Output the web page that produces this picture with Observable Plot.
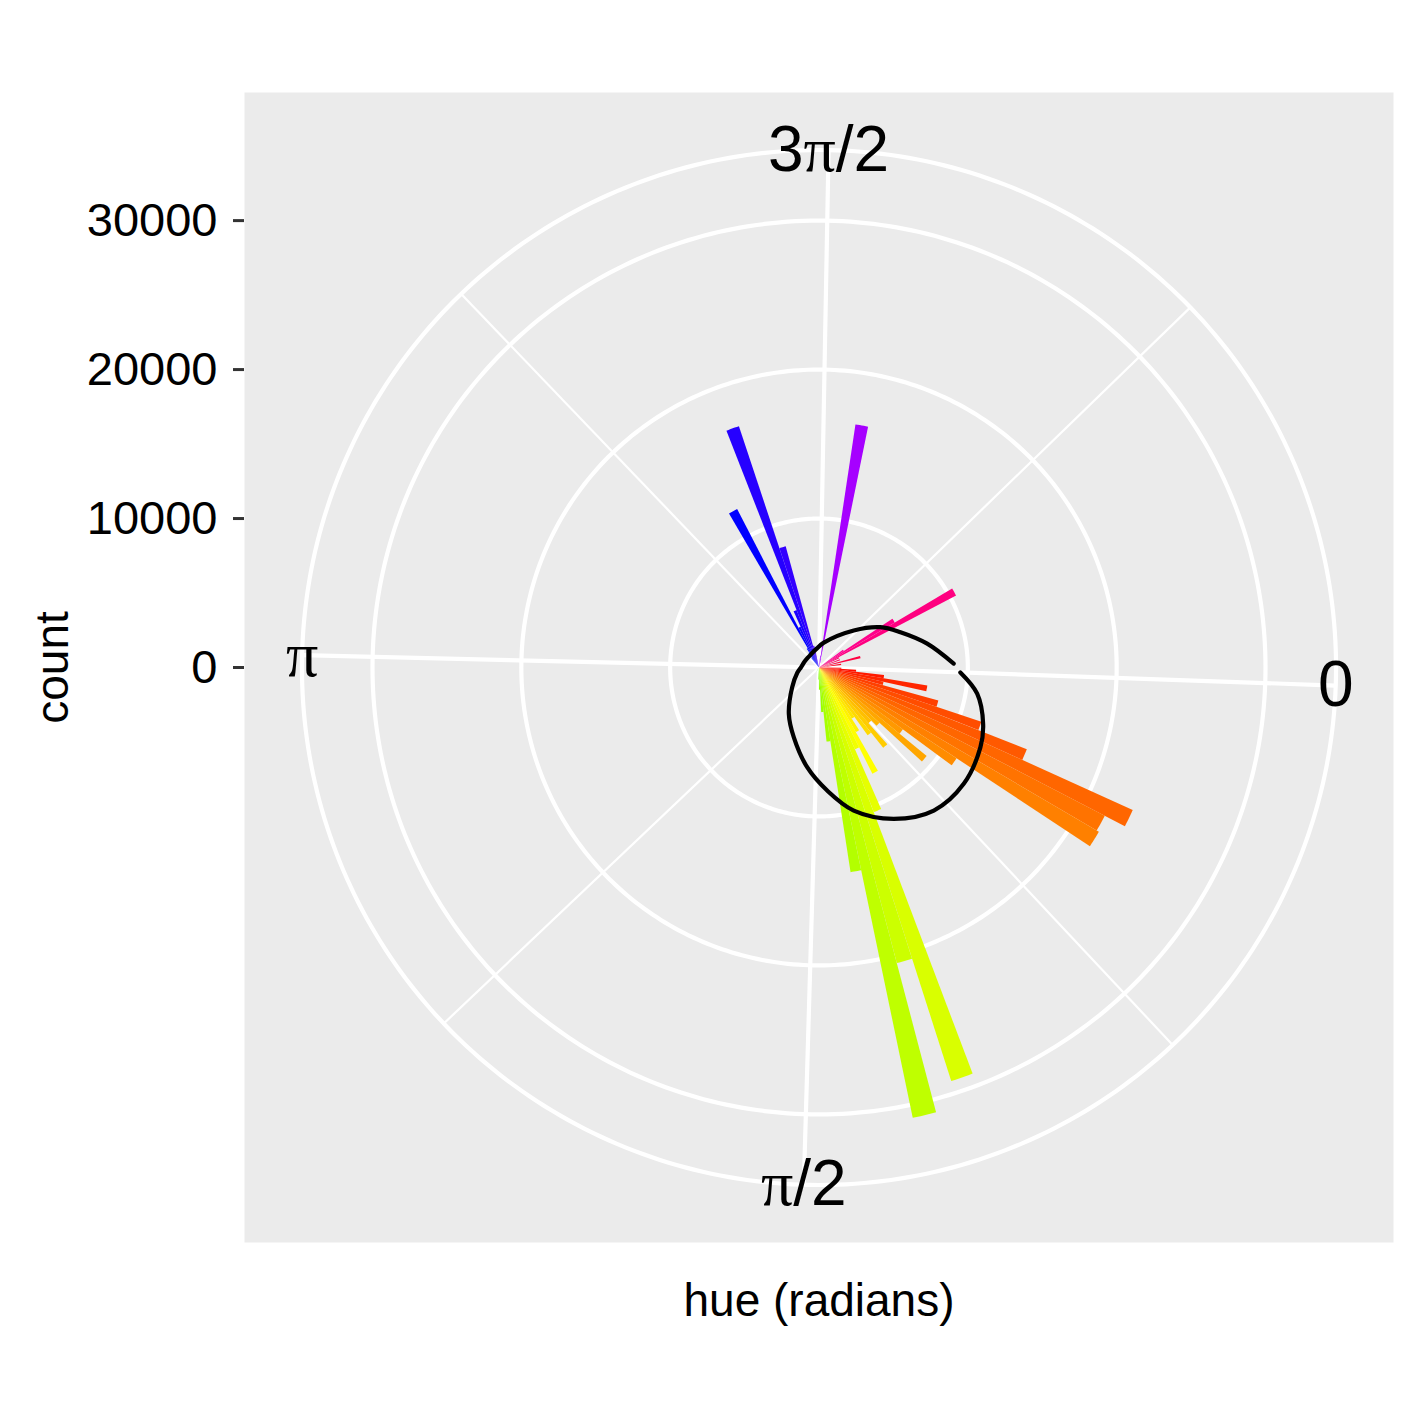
<!DOCTYPE html>
<html>
<head>
<meta charset="utf-8">
<script src="https://cdn.jsdelivr.net/npm/d3@7"></script>
<script src="https://cdn.jsdelivr.net/npm/@observablehq/plot@0.6"></script>
<style>
  html, body { margin: 0; padding: 0; background: #ffffff; }
</style>
</head>
<body>
<div id="chart"></div>
<script>
// ---- histogram of hue (bin centres in degrees, counts) ----
const binHueDeg = [0, 3, 6, 9, 12, 15, 18, 21, 24, 27, 30, 33, 36, 39, 42, 45, 48, 51, 54, 57, 60, 63, 66, 69, 72, 75, 78, 81, 84, 87, 90, 120,
                   231, 234, 237, 240, 243, 246, 249, 252, 255, 276, 279, 282, 324, 327, 330, 333, 339, 345, 351];
const binCount  = [1500, 2500, 4400, 7380, 4440, 8320, 11500, 15000, 23150, 21630, 21800, 11070, 7000, 9360, 5500, 5000, 6900, 5600, 4080, 5000, 7980, 6000, 10380, 29150, 20520, 30880, 13900, 5000, 3000, 1500, 800, 300,
                   800, 1200, 1500, 11975, 3000, 4140, 17070, 8440, 1500, 800, 16500, 600, 2000, 5920, 10400, 1500, 1500, 2860, 1500];
const binWidthDeg = 3;

// ---- fitted curve (hue degrees, count) ----
const curveHueDeg = [0, 7.4, 17, 24.4, 36.9, 49.4, 61.9, 74.6, 84.5, 95.1, 108.3, 121.5, 142.2, 165, 180, 200, 220, 240, 260, 280, 312.3, 325.9, 335.8, 346.8, 357.6];
const curveCount  = [9503, 10772, 11659, 12096, 12472, 12317, 11337, 9886, 8281, 6743, 4977, 3714, 2236, 1500, 1200, 1050, 1000, 1050, 1250, 1700, 3412, 4936, 5964, 7441, 9053];

// ---- axes ----
const thetaMajor = [0, Math.PI / 2, Math.PI, 3 * Math.PI / 2];
const thetaMajorLabels = ["0", "π/2", "π", "3π/2"];
const thetaMinor = [Math.PI / 4, 3 * Math.PI / 4, 5 * Math.PI / 4, 7 * Math.PI / 4];
const rBreaks = [0, 10000, 20000, 30000];
const thetaDomain = [-0.0350, 6.2701]; // theta scale limits (radians)

const rad = d => d * Math.PI / 180;
const maxCount = d3.max(binCount);
const rOuter = maxCount * 0.45 / 0.4;
const D = maxCount * 1.25;

const angle = d3.scaleLinear().domain(thetaDomain).range([0, 2 * Math.PI]);
const polar = (theta, r) => ({x: r * Math.cos(angle(theta)), y: -r * Math.sin(angle(theta))});

// bar polygons
const barPts = [];
binHueDeg.forEach((h, i) => {
  const t0 = rad(h - binWidthDeg / 2), t1 = rad(h + binWidthDeg / 2);
  const col = d3.hsl(h, 1, 0.5).formatHex();
  const n = 6;
  barPts.push({bin: i, fill: col, x: 0, y: 0});
  for (let k = 0; k <= n; k++) {
    const p = polar(t0 + (t1 - t0) * k / n, binCount[i]);
    barPts.push({bin: i, fill: col, ...p});
  }
  barPts.push({bin: i, fill: col, x: 0, y: 0});
});

// circles
const circlePts = [];
[...rBreaks.filter(r => r > 0), rOuter].forEach(r => {
  for (let k = 0; k <= 360; k++) {
    const a = rad(k);
    circlePts.push({r, x: r * Math.cos(a), y: r * Math.sin(a)});
  }
});

const spoke = t => ({x1: 0, y1: 0, x2: polar(t, rOuter).x, y2: polar(t, rOuter).y});
const majorSpokes = thetaMajor.map(spoke);
const minorSpokes = thetaMinor.map(spoke);

const curvePts = curveHueDeg.map((h, i) => polar(rad(h), curveCount[i]));
const labelPts = thetaMajor.map((t, i) => ({...polar(t, rOuter), label: thetaMajorLabels[i]}));

const chart = Plot.plot({
  width: 1417,
  height: 1417,
  marginLeft: 244,
  marginRight: 24,
  marginTop: 92,
  marginBottom: 175,
  x: {domain: [-D, D], axis: null},
  y: {domain: [-D, D], axis: null},
  color: {type: "identity"},
  style: {fontFamily: "'Liberation Sans', Arial, sans-serif", background: "#ffffff", color: "#000000"},
  marks: [
    Plot.frame({fill: "#EBEBEB", stroke: "none"}),
    Plot.link(minorSpokes, {x1: "x1", y1: "y1", x2: "x2", y2: "y2", stroke: "#ffffff", strokeWidth: 2.2}),
    Plot.line(circlePts, {x: "x", y: "y", z: "r", stroke: "#ffffff", strokeWidth: 4.2}),
    Plot.link(majorSpokes, {x1: "x1", y1: "y1", x2: "x2", y2: "y2", stroke: "#ffffff", strokeWidth: 4.2}),
    Plot.line(barPts, {x: "x", y: "y", z: "bin", fill: "fill", stroke: "none", curve: "linear"}),
    Plot.line(curvePts, {x: "x", y: "y", stroke: "#000000", strokeWidth: 4.2, curve: "catmull-rom"}),
    Plot.text(labelPts, {x: "x", y: "y", text: "label", fontSize: 64, fill: "#000000", lineAnchor: "middle", textAnchor: "middle"}),
    Plot.axisY({ticks: rBreaks, tickFormat: d3.format("d"), tickSize: 11, tickPadding: 16, fontSize: 47,
                anchor: "left", label: null, stroke: "#333333", strokeWidth: 3, fill: "#000000"}),
    Plot.text(["count"], {text: d => d, frameAnchor: "left", dx: -191, rotate: -90, fontSize: 46, fill: "#000000", lineAnchor: "middle", textAnchor: "middle"}),
    Plot.text(["hue (radians)"], {text: d => d, frameAnchor: "bottom", dy: 59, fontSize: 46, fill: "#000000", lineAnchor: "middle", textAnchor: "middle"})
  ]
});

// render π with a serif (Symbol-like) face
const NS = "http://www.w3.org/2000/svg";
chart.querySelectorAll("text").forEach(t => {
  if (t.children.length === 0 && t.textContent.includes("π")) {
    const s = t.textContent;
    t.textContent = "";
    s.split(/(π)/).filter(p => p).forEach(p => {
      const ts = document.createElementNS(NS, "tspan");
      ts.textContent = p;
      if (p === "π") ts.setAttribute("font-family", "'Liberation Serif', 'DejaVu Serif', serif");
      t.appendChild(ts);
    });
  }
});

document.getElementById("chart").appendChild(chart);
</script>
</body>
</html>
